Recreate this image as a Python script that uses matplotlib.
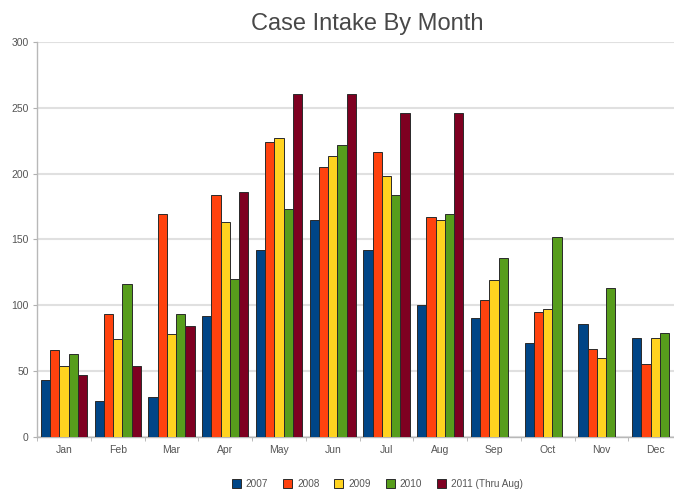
import matplotlib
matplotlib.use("Agg")
import matplotlib.pyplot as plt
import numpy as np

plt.rcParams["font.family"] = ["Liberation Sans", "DejaVu Sans"]

months = ["Jan", "Feb", "Mar", "Apr", "May", "Jun",
          "Jul", "Aug", "Sep", "Oct", "Nov", "Dec"]
series_names = ["2007", "2008", "2009", "2010", "2011 (Thru Aug)"]
y2007 = [43, 27, 30, 92, 142, 165, 142, 100, 90, 71, 86, 75]
y2008 = [66, 93, 169, 184, 224, 205, 216, 167, 104, 95, 67, 55]
y2009 = [54, 74, 78, 163, 227, 213, 198, 165, 119, 97, 60, 75]
y2010 = [63, 116, 93, 120, 173, 222, 184, 169, 136, 152, 113, 79]
y2011 = [47, 54, 84, 186, 260, 260, 246, 246, np.nan, np.nan, np.nan, np.nan]
colors = ["#004586", "#ff420e", "#ffd320", "#579d1c", "#7e0021"]

fig = plt.figure(figsize=(6.74, 4.92), dpi=100)
ax = fig.add_axes([0.055, 0.112, 0.957, 0.803])

x = np.arange(len(months))
w = 0.172
data = [y2007, y2008, y2009, y2010, y2011]
for i, (vals, c, name) in enumerate(zip(data, colors, series_names)):
    ax.bar(x - 2 * w + i * w, vals, width=w, color=c, edgecolor="#2a2a2a",
           linewidth=0.7, label=name, zorder=3)

ax.set_xlim(-0.5, 11.5)
ax.set_ylim(0, 300)
ax.set_yticks(range(0, 301, 50))
ax.set_xticks(x)
ax.set_xticklabels(months)
ax.set_xticks(np.arange(-0.5, 12, 1), minor=True)
ax.tick_params(axis="x", which="major", length=0, labelsize=7.5, colors="#555555", pad=6)
ax.tick_params(axis="x", which="minor", length=3, color="#b0b0b0")
ax.tick_params(axis="y", length=3, color="#b0b0b0", labelsize=7.5, labelcolor="#555555", pad=3)
ax.grid(axis="y", color="#e0e0e0", linewidth=1.5, zorder=0)
for s in ["top", "right"]:
    ax.spines[s].set_visible(False)
for s in ["left", "bottom"]:
    ax.spines[s].set_color("#b8b8b8")
    ax.spines[s].set_linewidth(1.0)

fig.text(0.545, 0.94, "Case Intake By Month", ha="center", va="baseline",
         fontsize=17, color="#484848")
fig.legend(loc="lower center", bbox_to_anchor=(0.56, -0.012), ncol=5, frameon=False,
           fontsize=7.2, handlelength=0.9, handleheight=0.9, handletextpad=0.5,
           columnspacing=1.5, labelcolor="#555555")

fig.savefig("out.png", dpi=100)
